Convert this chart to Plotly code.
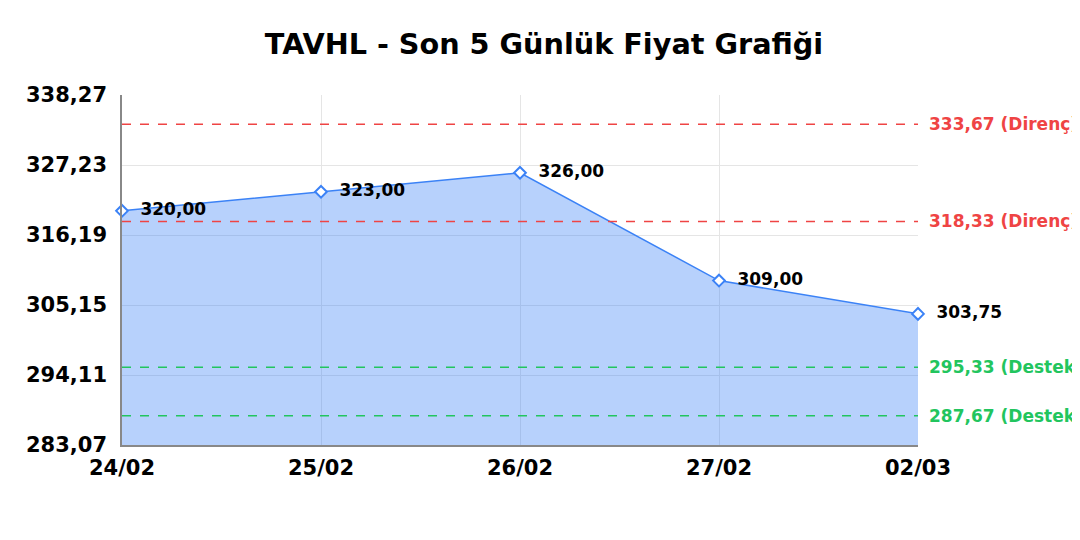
import plotly.graph_objects as go

# Data
dates = ['24/02', '25/02', '26/02', '27/02', '02/03']
prices = [320.00, 323.00, 326.00, 309.00, 303.75]

resistance = [333.67, 318.33]
support = [295.33, 287.67]

y_ticks = [283.07, 294.11, 305.15, 316.19, 327.23, 338.27]

def tr(v):
    return f"{v:.2f}".replace('.', ',')

blue = '#3b82f6'
red = '#ef4444'
green = '#22c55e'
font = 'DejaVu Sans'

fig = go.Figure()

fig.add_trace(go.Scatter(
    x=dates,
    y=prices,
    mode='lines+markers+text',
    fill='tozeroy',
    fillcolor='rgba(59,130,246,0.37)',
    line=dict(color=blue, width=1.5),
    marker=dict(symbol='diamond', size=9, color='white', line=dict(color=blue, width=2)),
    text=['  ' + tr(p) for p in prices],
    textposition='middle right',
    textfont=dict(family=font, size=17, color='black', weight='bold'),
    cliponaxis=False,
    showlegend=False,
))

shapes = []
annotations = []
for lvl, col, name in [(r, red, 'Direnç') for r in resistance] + [(s, green, 'Destek') for s in support]:
    shapes.append(dict(type='line', xref='paper', x0=0, x1=1, yref='y', y0=lvl, y1=lvl,
                       line=dict(color=col, width=1.5, dash='dash')))
    annotations.append(dict(xref='paper', x=1, yref='y', y=lvl, text=f"{tr(lvl)} ({name})",
                            showarrow=False, xanchor='left', yanchor='middle', xshift=9,
                            font=dict(family=font, size=17, color=col, weight='bold')))

# page has an 8px body margin, so the figure is 1072x532
fig.update_layout(
    width=1072,
    height=532,
    margin=dict(l=114, r=162, t=87, b=95),
    paper_bgcolor='white',
    plot_bgcolor='white',
    title=dict(text='<b>TAVHL - Son 5 Günlük Fiyat Grafiği</b>', x=0.5, xanchor='center',
               y=0.932, yanchor='middle', font=dict(family=font, size=28.7, color='black')),
    xaxis=dict(
        type='category',
        range=[0, 4],
        showgrid=True,
        gridcolor='#e5e5e5',
        showline=True,
        linecolor='#888888',
        linewidth=1.5,
        ticks='',
        ticklabelstandoff=3,
        tickfont=dict(family=font, size=21, color='black', weight='bold'),
    ),
    yaxis=dict(
        range=[283.07, 338.27],
        tickvals=y_ticks,
        ticktext=[tr(v) for v in y_ticks],
        showgrid=True,
        gridcolor='#e5e5e5',
        showline=True,
        linecolor='#888888',
        linewidth=1.5,
        zeroline=False,
        ticks='',
        ticklabelstandoff=9,
        tickfont=dict(family=font, size=21, color='black', weight='bold'),
    ),
    shapes=shapes,
    annotations=annotations,
)

fig.write_html("out.html")
